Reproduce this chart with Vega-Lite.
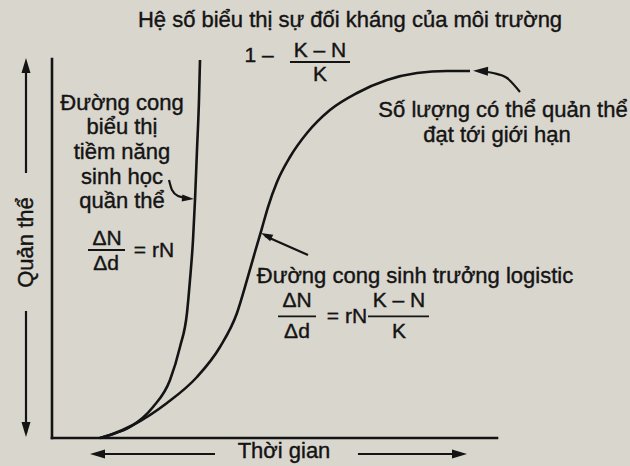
{
  "$schema": "https://vega.github.io/schema/vega-lite/v6.json",
  "width": 630,
  "height": 466,
  "padding": 0,
  "autosize": {"type": "fit", "contains": "padding"},
  "background": "#d9d6ce",
  "config": {"view": {"stroke": null}},
  "datasets": {
    "strokes": [
      {"id": "yaxis", "kind": "axis", "seq": 1, "t": 0, "n": 85.55},
      {"id": "yaxis", "kind": "axis", "seq": 2, "t": 0, "n": 0},
      {"id": "xaxis", "kind": "axis", "seq": 1, "t": 0, "n": 0},
      {"id": "xaxis", "kind": "axis", "seq": 2, "t": 100.45, "n": 0},

      {"id": "nup", "kind": "arrow", "seq": 1, "t": -5.87, "n": 84.2},
      {"id": "nup", "kind": "arrow", "seq": 2, "t": -5.87, "n": 59.82},
      {"id": "ndown", "kind": "arrow", "seq": 1, "t": -5.87, "n": 28.67},
      {"id": "ndown", "kind": "arrow", "seq": 2, "t": -5.87, "n": 1.13},
      {"id": "tleft", "kind": "arrow", "seq": 1, "t": 9.71, "n": -3.61},
      {"id": "tleft", "kind": "arrow", "seq": 2, "t": 36.79, "n": -3.61},
      {"id": "tright", "kind": "arrow", "seq": 1, "t": 69.07, "n": -3.61},
      {"id": "tright", "kind": "arrow", "seq": 2, "t": 92.55, "n": -3.61},
      {"id": "logi", "kind": "arrow", "seq": 1, "t": 57.79, "n": 41.31},
      {"id": "logi", "kind": "arrow", "seq": 2, "t": 48.08, "n": 45.6},

      {"id": "bar1", "kind": "bar", "seq": 1, "t": 53.72, "n": 84.88},
      {"id": "bar1", "kind": "bar", "seq": 2, "t": 67.27, "n": 84.88},
      {"id": "bar2", "kind": "bar", "seq": 1, "t": 8.13, "n": 42.44},
      {"id": "bar2", "kind": "bar", "seq": 2, "t": 16.48, "n": 42.44},
      {"id": "bar3", "kind": "bar", "seq": 1, "t": 51.02, "n": 27.45},
      {"id": "bar3", "kind": "bar", "seq": 2, "t": 59.59, "n": 27.45},
      {"id": "bar4", "kind": "bar", "seq": 1, "t": 71.33, "n": 27.45},
      {"id": "bar4", "kind": "bar", "seq": 2, "t": 85.1, "n": 27.45},

      {"id": "exp", "kind": "curve", "seq": 1, "t": 10.84, "n": 0},
      {"id": "exp", "kind": "curve", "seq": 2, "t": 13.09, "n": 0.68},
      {"id": "exp", "kind": "curve", "seq": 3, "t": 17.61, "n": 2.48},
      {"id": "exp", "kind": "curve", "seq": 4, "t": 22.8, "n": 7.0},
      {"id": "exp", "kind": "curve", "seq": 5, "t": 26.64, "n": 13.09},
      {"id": "exp", "kind": "curve", "seq": 6, "t": 28.89, "n": 20.54},
      {"id": "exp", "kind": "curve", "seq": 7, "t": 30.47, "n": 28.22},
      {"id": "exp", "kind": "curve", "seq": 8, "t": 31.15, "n": 35.67},
      {"id": "exp", "kind": "curve", "seq": 9, "t": 31.83, "n": 44.7},
      {"id": "exp", "kind": "curve", "seq": 10, "t": 32.28, "n": 53.72},
      {"id": "exp", "kind": "curve", "seq": 11, "t": 32.73, "n": 65.01},
      {"id": "exp", "kind": "curve", "seq": 12, "t": 33.18, "n": 76.3},
      {"id": "exp", "kind": "curve", "seq": 13, "t": 33.41, "n": 85.33},

      {"id": "logistic", "kind": "curve", "seq": 1, "t": 10.84, "n": 0},
      {"id": "logistic", "kind": "curve", "seq": 2, "t": 13.09, "n": 0.68},
      {"id": "logistic", "kind": "curve", "seq": 3, "t": 18.28, "n": 2.93},
      {"id": "logistic", "kind": "curve", "seq": 4, "t": 25.96, "n": 7.9},
      {"id": "logistic", "kind": "curve", "seq": 5, "t": 32.73, "n": 13.77},
      {"id": "logistic", "kind": "curve", "seq": 6, "t": 37.92, "n": 20.54},
      {"id": "logistic", "kind": "curve", "seq": 7, "t": 41.76, "n": 28.22},
      {"id": "logistic", "kind": "curve", "seq": 8, "t": 44.02, "n": 35.67},
      {"id": "logistic", "kind": "curve", "seq": 9, "t": 45.82, "n": 41.99},
      {"id": "logistic", "kind": "curve", "seq": 10, "t": 47.4, "n": 47.4},
      {"id": "logistic", "kind": "curve", "seq": 11, "t": 48.76, "n": 52.14},
      {"id": "logistic", "kind": "curve", "seq": 12, "t": 50.79, "n": 57.79},
      {"id": "logistic", "kind": "curve", "seq": 13, "t": 53.72, "n": 63.43},
      {"id": "logistic", "kind": "curve", "seq": 14, "t": 57.56, "n": 68.85},
      {"id": "logistic", "kind": "curve", "seq": 15, "t": 62.75, "n": 74.04},
      {"id": "logistic", "kind": "curve", "seq": 16, "t": 68.85, "n": 77.88},
      {"id": "logistic", "kind": "curve", "seq": 17, "t": 75.62, "n": 80.81},
      {"id": "logistic", "kind": "curve", "seq": 18, "t": 82.39, "n": 82.39},
      {"id": "logistic", "kind": "curve", "seq": 19, "t": 89.16, "n": 82.84},
      {"id": "logistic", "kind": "curve", "seq": 20, "t": 94.36, "n": 82.84},

      {"id": "limit", "kind": "bend", "seq": 1, "t": 96.61, "n": 82.84},
      {"id": "limit", "kind": "bend", "seq": 2, "t": 99.55, "n": 82.39},
      {"id": "limit", "kind": "bend", "seq": 3, "t": 102.71, "n": 81.26},
      {"id": "limit", "kind": "bend", "seq": 4, "t": 105.64, "n": 78.1},
      {"id": "hook", "kind": "bend", "seq": 1, "t": 26.41, "n": 58.24},
      {"id": "hook", "kind": "bend", "seq": 2, "t": 27.09, "n": 55.98},
      {"id": "hook", "kind": "bend", "seq": 3, "t": 28.44, "n": 54.63},
      {"id": "hook", "kind": "bend", "seq": 4, "t": 30.47, "n": 54.18}
    ],
    "heads": [
      {"kind": "big", "t": -5.87, "n": 84.09, "heading": 0},
      {"kind": "big", "t": -5.87, "n": 1.92, "heading": 180},
      {"kind": "big", "t": 10.27, "n": -3.61, "heading": 270},
      {"kind": "big", "t": 91.99, "n": -3.61, "heading": 90},
      {"kind": "big", "t": 96.73, "n": 82.84, "heading": 272},
      {"kind": "small", "t": 48.37, "n": 45.71, "heading": 295},
      {"kind": "small", "t": 30.7, "n": 54.06, "heading": 95}
    ],
    "words": [
      {"label": "Hệ số biểu thị sự đối kháng của môi trường", "t": 67.27, "n": 92.78},
      {"label": "Đường cong", "t": 15.8, "n": 74.04},
      {"label": "biểu thị", "t": 15.8, "n": 68.62},
      {"label": "tiềm năng", "t": 15.8, "n": 62.98},
      {"label": "sinh học", "t": 15.8, "n": 57.34},
      {"label": "quần thể", "t": 15.8, "n": 51.92},
      {"label": "Số lượng có thể quản thể", "t": 101.81, "n": 72.46},
      {"label": "đạt tới giới hạn", "t": 100.45, "n": 66.82},
      {"label": "Đường cong sinh trưởng logistic", "t": 81.94, "n": 34.99},
      {"label": "Thời gian", "t": 52.37, "n": -4.51}
    ],
    "math": [
      {"label": "1 –", "t": 46.73, "n": 86.23},
      {"label": "K – N", "t": 60.5, "n": 87.36},
      {"label": "K", "t": 60.5, "n": 81.94},
      {"label": "ΔN", "t": 12.42, "n": 44.92},
      {"label": "Δd", "t": 12.19, "n": 39.28},
      {"label": "= rN", "t": 23.02, "n": 42.21},
      {"label": "ΔN", "t": 55.3, "n": 30.93},
      {"label": "Δd", "t": 55.3, "n": 23.93},
      {"label": "= rN", "t": 66.59, "n": 27.31},
      {"label": "K – N", "t": 78.33, "n": 30.93},
      {"label": "K", "t": 78.33, "n": 23.93}
    ],
    "side": [
      {"label": "Quản thể", "t": -5.87, "n": 44.13}
    ]
  },
  "encoding": {
    "x": {"field": "t", "type": "quantitative", "axis": null,
          "scale": {"domain": [-11.738, 130.474], "nice": false, "zero": false}},
    "y": {"field": "n", "type": "quantitative", "axis": null,
          "scale": {"domain": [-6.321, 98.871], "nice": false, "zero": false}}
  },
  "layer": [
    {
      "data": {"name": "strokes"},
      "transform": [{"filter": "datum.kind === 'axis'"}],
      "mark": {"type": "line", "color": "#141414", "strokeWidth": 2.6, "strokeCap": "square"},
      "encoding": {"detail": {"field": "id"}, "order": {"field": "seq", "type": "quantitative"}}
    },
    {
      "data": {"name": "strokes"},
      "transform": [{"filter": "datum.kind === 'arrow'"}],
      "mark": {"type": "line", "color": "#141414", "strokeWidth": 2.2},
      "encoding": {"detail": {"field": "id"}, "order": {"field": "seq", "type": "quantitative"}}
    },
    {
      "data": {"name": "strokes"},
      "transform": [{"filter": "datum.kind === 'bar'"}],
      "mark": {"type": "line", "color": "#141414", "strokeWidth": 1.8},
      "encoding": {"detail": {"field": "id"}, "order": {"field": "seq", "type": "quantitative"}}
    },
    {
      "data": {"name": "strokes"},
      "transform": [{"filter": "datum.kind === 'curve'"}],
      "mark": {"type": "line", "color": "#141414", "strokeWidth": 2.6, "interpolate": "monotone"},
      "encoding": {"detail": {"field": "id"}, "order": {"field": "seq", "type": "quantitative"}}
    },
    {
      "data": {"name": "strokes"},
      "transform": [{"filter": "datum.kind === 'bend'"}],
      "mark": {"type": "line", "color": "#141414", "strokeWidth": 2.2, "interpolate": "monotone"},
      "encoding": {"detail": {"field": "id"}, "order": {"field": "seq", "type": "quantitative"}}
    },
    {
      "data": {"name": "heads"},
      "transform": [{"filter": "datum.kind === 'big'"}],
      "mark": {"type": "point", "shape": "M0,-1L0.6,1L-0.6,1Z", "filled": true, "size": 225, "color": "#141414", "opacity": 1},
      "encoding": {"angle": {"field": "heading", "type": "quantitative", "scale": null}}
    },
    {
      "data": {"name": "heads"},
      "transform": [{"filter": "datum.kind === 'small'"}],
      "mark": {"type": "point", "shape": "M0,-1L0.6,1L-0.6,1Z", "filled": true, "size": 144, "color": "#141414", "opacity": 1},
      "encoding": {"angle": {"field": "heading", "type": "quantitative", "scale": null}}
    },
    {
      "data": {"name": "words"},
      "mark": {"type": "text", "font": "Liberation Sans", "fontSize": 22, "align": "center", "baseline": "alphabetic", "color": "#141414", "stroke": "#141414", "strokeWidth": 0.4},
      "encoding": {"text": {"field": "label"}}
    },
    {
      "data": {"name": "math"},
      "mark": {"type": "text", "font": "Liberation Sans", "fontSize": 21, "align": "center", "baseline": "middle", "color": "#141414", "stroke": "#141414", "strokeWidth": 0.4},
      "encoding": {"text": {"field": "label"}}
    },
    {
      "data": {"name": "side"},
      "mark": {"type": "text", "font": "Liberation Sans", "fontSize": 22, "align": "center", "baseline": "middle", "angle": 270, "color": "#141414", "stroke": "#141414", "strokeWidth": 0.4},
      "encoding": {"text": {"field": "label"}}
    }
  ]
}
